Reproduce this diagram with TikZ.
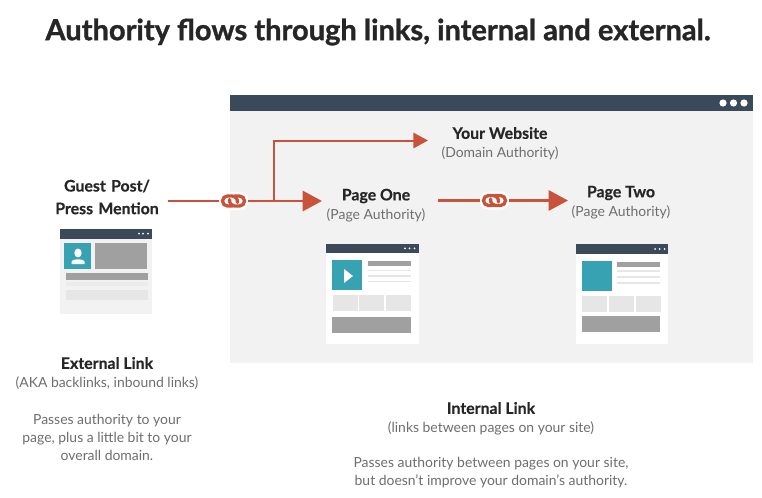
\documentclass[tikz,border=0pt]{standalone}
\usepackage{fontspec}
\setmainfont{Lato}
\newfontfamily\heavyface[FakeBold=1.1,BoldFont={Lato Bold},BoldFeatures={FakeBold=1.1}]{Lato}
\newfontfamily\headface[FakeBold=0.45,BoldFont={Lato Bold},BoldFeatures={FakeBold=0.45}]{Lato}
\usetikzlibrary{arrows.meta}
\definecolor{ink}{HTML}{262626}
\definecolor{soft}{HTML}{6E6E6E}
\definecolor{rust}{HTML}{C9533A}
\definecolor{slate}{HTML}{3B4A5A}
\definecolor{panel}{HTML}{F2F2F2}
\definecolor{teal}{HTML}{37A2B2}
\definecolor{midgray}{HTML}{A0A0A0}
\definecolor{tile}{HTML}{E6E6E6}
\tikzset{
  x=0.75pt,y=-0.75pt,
  head/.style={font=\headface\bfseries\fontsize{11.9}{15}\selectfont,text=ink,inner sep=0pt,align=center},
  body/.style={font=\fontsize{10.45}{13.5}\selectfont,text=soft,inner sep=0pt,align=center},
  conn/.style={draw=rust,line width=2.2pt},
  bigarrow/.style={conn,-{Triangle[length=14.5pt,width=15pt]}},
  smallarrow/.style={draw=rust,line width=1.5pt,-{Triangle[length=11pt,width=11.5pt]}},
  linkbox/.style={fill=white,rounded corners=6pt,minimum width=22pt,minimum height=13.5pt,inner sep=0pt},
  looppart/.style={draw=rust,line width=2.5pt,line cap=round},
}
\newcommand{\linkicon}[1]{%
  \begin{scope}[shift={(#1)}]
    \draw[looppart] (4,1.5) .. controls (4,-2.5) and (2,-5) .. (-1,-5) -- (-6,-5) arc[start angle=270,end angle=90,radius=5] -- (-1,5);
    \draw[looppart] (-4,-1.5) .. controls (-4,2.5) and (-2,5) .. (1,5) -- (6,5) arc[start angle=90,end angle=-90,radius=5] -- (1,-5);
  \end{scope}}
\begin{document}
\begin{tikzpicture}
\useasboundingbox (0,0) rectangle (762,497);
\fill[white] (0,0) rectangle (762,497);
% panel
\fill[panel] (230,95) rectangle (753,363);
\fill[slate] (230,95) rectangle (753,111);
\foreach \px in {723,733.5,744}{\fill[white] (\px,103) circle[radius=3.6];}
% title
\node[font=\heavyface\bfseries\fontsize{21.8}{26}\selectfont,text=ink,inner sep=0pt] (title) at (378,32) {Authority flows through links, internal and external.};
% labels
\node[head] (site) at (500,133) {Your Website};
\node[body] (sitesub) at (500,153) {(Domain Authority)};
\node[head,text width=130,font=\headface\bfseries\fontsize{11.9}{17}\selectfont] (guest) at (107,197) {Guest Post/\\Press Mention};
\node[head] (one) at (376,196) {Page One};
\node[body] (onesub) at (376,215) {(Page Authority)};
\node[head] (two) at (621,193) {Page Two};
\node[body] (twosub) at (621,212) {(Page Authority)};
\node[head] (ext) at (107,363) {External Link};
\node[body] (extsub) at (107,383) {(AKA backlinks, inbound links)};
\node[body] (extnote) at (107,437) {Passes authority to your\\page, plus a little bit to your\\overall domain.};
\node[head] (int) at (491,408) {Internal Link};
\node[body] (intsub) at (491,428) {(links between pages on your site)};
\node[body] (intnote) at (491,473) {Passes authority between pages on your site,\\but doesn't improve your domain's authority.};
% link icons
\node[linkbox] (linka) at (233.5,201) {};
\node[linkbox] (linkb) at (494.5,200.5) {};
% connector anchors
\coordinate (guestout) at (168,201);
\coordinate (onein) at (322,201);
\coordinate (branch) at (274,201);
\coordinate (sitein) at (428,140.5);
\coordinate (oneout) at (438,200.5);
\coordinate (twoin) at (568,200.5);
\draw[conn] (guestout) -- (linka.west);
\draw[bigarrow] (linka.east) -- (onein);
\draw[smallarrow] (branch) |- (sitein);
\draw[conn] (oneout) -- (linkb.west);
\draw[bigarrow] (linkb.east) -- (twoin);
\linkicon{linka}
\linkicon{linkb}
% guest thumbnail
\fill[panel] (60,229) rectangle (152,314);
\fill[slate] (60,229) rectangle (152,238.5);
\foreach \px in {139,143,148}{\fill[white] (\px,233.7) circle[radius=1];}
\fill[teal] (64,243) rectangle (91,269);
\fill[midgray] (95,243) rectangle (147,269);
\fill[white] (78,253) circle[x radius=3.6,y radius=4.4];
\fill[white] (71.5,264) -- (71.5,261.5) .. controls (72,258.5) and (84,258.5) .. (84.5,261.5) -- (84.5,264) -- cycle;
\fill[midgray] (66,273) rectangle (148,280);
\fill[tile!60!panel] (66,282) rectangle (148,286);
\fill[tile] (66,290) rectangle (148,300);
% page one thumbnail
\fill[white] (326,244) rectangle (419,344);
\fill[slate] (326,244) rectangle (419,253);
\foreach \px in {405,409.5,414.5}{\fill[white] (\px,248.3) circle[radius=1];}
\fill[teal] (332,260) rectangle (362,290);
\fill[white] (344,269) -- (353,276) -- (344,283) -- cycle;
\fill[midgray] (368,261) rectangle (411,266);
\foreach \py in {270.7,276,281.7}{\fill[tile] (368,\py-0.7) rectangle (411,\py+0.7);}
\fill[tile] (333,295) rectangle (358,311);
\fill[tile] (359,295) rectangle (384,311);
\fill[tile] (386,295) rectangle (411,311);
\fill[midgray] (332,317) rectangle (411,333);
% page two thumbnail
\fill[white] (576,244) rectangle (668,344);
\fill[slate] (576,244) rectangle (668,254);
\foreach \px in {655,659.5,664.5}{\fill[white] (\px,249) circle[radius=1];}
\fill[teal] (582,261) rectangle (612,291);
\fill[midgray] (617,262) rectangle (660,267);
\foreach \py in {271,277,283}{\fill[tile] (617,\py-0.7) rectangle (660,\py+0.7);}
\fill[tile] (582,296) rectangle (607,312);
\fill[tile] (609,296) rectangle (634,312);
\fill[tile] (636,296) rectangle (661,312);
\fill[midgray] (582,316) rectangle (660,332);
\end{tikzpicture}
\end{document}
